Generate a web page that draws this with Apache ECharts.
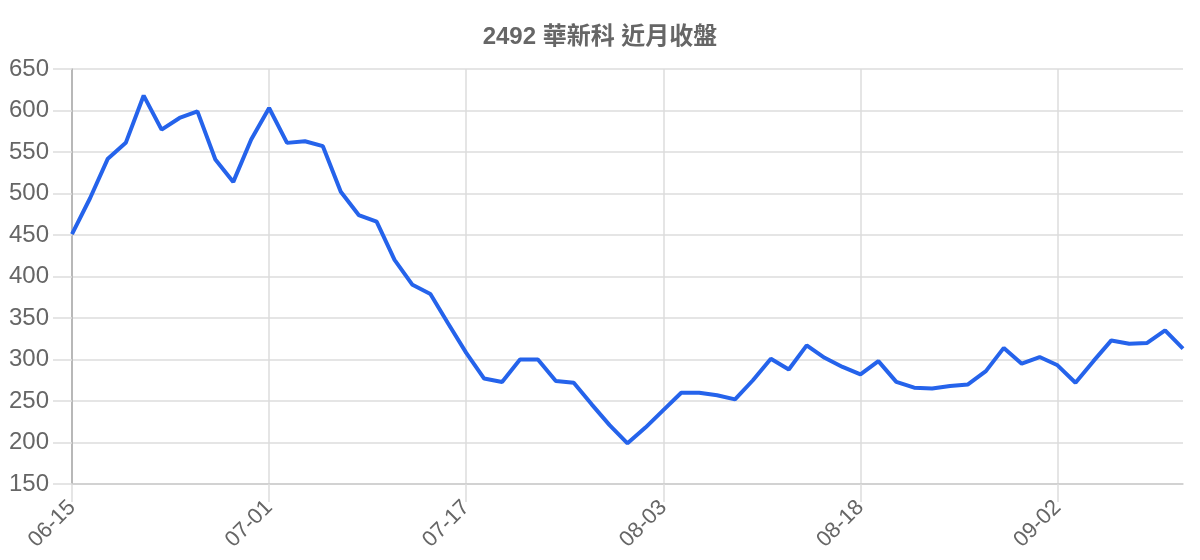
<!DOCTYPE html>
<html>
<head>
<meta charset="utf-8">
<script src="https://cdn.jsdelivr.net/npm/echarts@6/dist/echarts.min.js"></script>
<style>
html,body{margin:0;padding:0;background:#fff;}
#chart{width:1200px;height:560px;}
</style>
</head>
<body>
<div id="chart"></div>
<script>
const titleText = '2492 華新科 近月收盤';
const dates = [
  '06-15','06-16','06-17','06-18','06-19','06-22','06-23','06-24','06-26','06-29','06-30',
  '07-01','07-02','07-03','07-06','07-07','07-08','07-09','07-10','07-13','07-14','07-16',
  '07-17','07-20','07-21','07-22','07-23','07-24','07-27','07-28','07-29','07-30','07-31',
  '08-03','08-04','08-05','08-06','08-07','08-10','08-11','08-12','08-13','08-14','08-17',
  '08-18','08-19','08-20','08-21','08-24','08-25','08-26','08-27','08-28','08-31','09-01',
  '09-02','09-03','09-04','09-07','09-08','09-09','09-10','09-11'
];
const closes = [
  451,494,542,561,618,577,591,599,541,514,565,
  603,561,563,557,502,474,466,420,390,379,343,
  308,277,273,300,300,274,272,246,221,199,218,
  239,260,260,257,252,275,301,288,317,302,291,
  282,298,273,266,265,268,270,286,314,295,303,
  293,272,298,323,319,320,335,313
];
const yMin = 150, yMax = 650, yStep = 50;

const font = '"Liberation Sans", Arial, "Noto Sans CJK TC", sans-serif';
const chart = echarts.init(document.getElementById('chart'));
chart.setOption({
  animation: false,
  title: {
    text: titleText,
    left: 'center',
    top: 20,
    textStyle: { fontFamily: font, fontSize: 24, fontWeight: 'bold', color: '#666' }
  },
  grid: { left: 72, right: 17, top: 69, bottom: 76, containLabel: false },
  xAxis: {
    type: 'category',
    data: dates,
    boundaryGap: false,
    axisLine: { show: true, lineStyle: { color: '#cccccc', width: 1.5 } },
    axisTick: { show: true, interval: 10, length: 18, lineStyle: { color: '#dddddd', width: 1.5 } },
    splitLine: { show: true, interval: 10, lineStyle: { color: '#dddddd', width: 1.5 } },
    axisLabel: { interval: 10, rotate: 45, margin: 20, color: '#666', fontSize: 22, fontFamily: font }
  },
  yAxis: {
    type: 'value',
    min: yMin, max: yMax, interval: yStep,
    axisLine: { show: true, lineStyle: { color: '#aaaaaa', width: 1.5 } },
    axisTick: { show: true, length: 19, lineStyle: { color: '#dddddd', width: 1.5 } },
    splitLine: { show: true, lineStyle: { color: '#dddddd', width: 1.5 } },
    axisLabel: { margin: 23, color: '#666', fontSize: 24, fontFamily: font }
  },
  series: [{
    type: 'line',
    data: closes,
    showSymbol: false,
    symbol: 'none',
    lineStyle: { color: '#2563eb', width: 4 },
    itemStyle: { color: '#2563eb' }
  }]
});
</script>
</body>
</html>
